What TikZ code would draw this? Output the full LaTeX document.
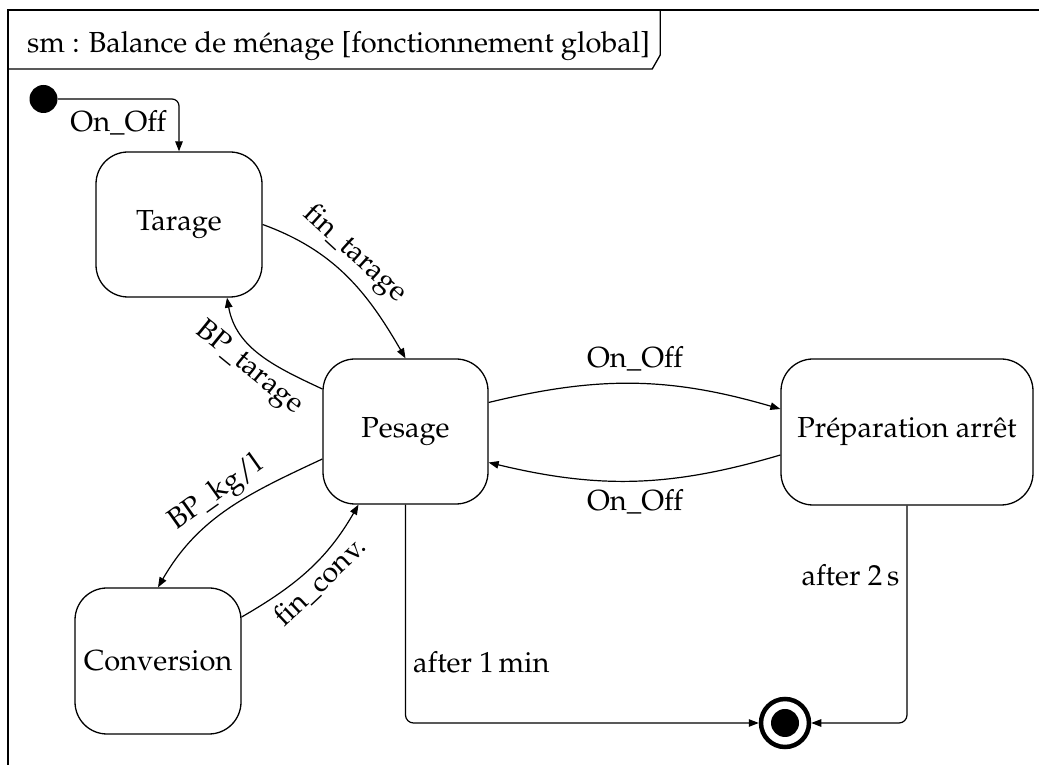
\documentclass[tikz,border=0pt]{standalone}
\usepackage[T1]{fontenc}
\usepackage{mathpazo}
\usetikzlibrary{arrows.meta,calc}
\begin{document}
\begin{tikzpicture}[x=1pt,y=1pt,
  every node/.style={font=\fontsize{29}{34}\selectfont},
  state/.style={draw, line width=1.3pt, rounded corners=32pt, minimum height=145pt, inner sep=0pt, align=center},
  trans/.style={draw, line width=1.2pt, -{Triangle[length=10pt,width=7.5pt]}},
  lbl/.style={inner sep=4pt}
]
\useasboundingbox (0,0) rectangle (1039,765);
\clip (0,0) rectangle (1039,765);
% frame
\draw[line width=2.2pt] (8,-20) -- (8,755) -- (1060,755);
\node[anchor=base west, inner sep=0pt] (title) at (27,712) {sm : Balance de m\'enage [fonctionnement global]};
\coordinate (tabB) at (8,696);
\coordinate (tabT) at (8,755);
\draw[line width=1.3pt] (tabB) -- ($(tabB -| title.east)+(2,0)$) -- ($(tabB -| title.east)+(10,14)$) -- ($(tabT -| title.east)+(10,0)$);

% states
\node[state, minimum width=166pt] (tar) at (179,540.5) {Tarage};
\node[state, minimum width=165pt] (pes) at (405.5,333.5) {Pesage};
\node[state, minimum width=166pt, minimum height=146pt] (conv) at (158,104) {Conversion};
\node[state, minimum width=252pt, minimum height=146pt] (prep) at (907,333) {Pr\'eparation arr\^et};
\node[circle, fill, inner sep=0pt, minimum size=28pt] (init) at (43.5,666) {};
\node[circle, draw, line width=4.5pt, inner sep=0pt, minimum size=48pt] (fin) at (785,42) {};
\node[circle, fill, inner sep=0pt, minimum size=28pt] (fincore) at (fin) {};

% transitions
\draw[trans, rounded corners=7pt] (init.east) -| node[pos=0.25, below, inner sep=3pt, yshift=-8pt]{On\_Off} (tar.north);
\draw[trans] (tar.east) to[out=-20, in=120] node[pos=0.45, sloped, above, inner sep=6pt]{fin\_tarage} (pes.north);
\draw[trans] ([yshift=42.5pt]pes.west) to[out=155, in=-80] node[pos=0.5, sloped, below, lbl]{BP\_tarage} ([xshift=48pt]tar.south);
\draw[trans] ([yshift=-27.5pt]pes.west) to[out=205, in=60] node[pos=0.5, sloped, above, lbl]{BP\_kg/l} (conv.north);
\draw[trans] ([yshift=44pt]conv.east) to[out=30, in=-120] node[pos=0.5, sloped, below, lbl]{fin\_conv.} ([xshift=-47pt]pes.south);
\draw[trans] ([yshift=29pt]pes.east) to[bend left=15] node[above, inner sep=12pt]{On\_Off} ([yshift=23pt]prep.west);
\draw[trans] ([yshift=-23pt]prep.west) to[bend left=15] node[below, inner sep=8pt]{On\_Off} ([yshift=-31pt]pes.east);
\draw[trans, rounded corners=8pt] (pes.south) |- node[pos=0.36, right, inner sep=7pt]{after 1\,min} (fin.west);
\draw[trans, rounded corners=8pt] (prep.south) |- node[pos=0.16, left, inner sep=7pt]{after 2\,s} (fin.east);
\end{tikzpicture}
\end{document}
